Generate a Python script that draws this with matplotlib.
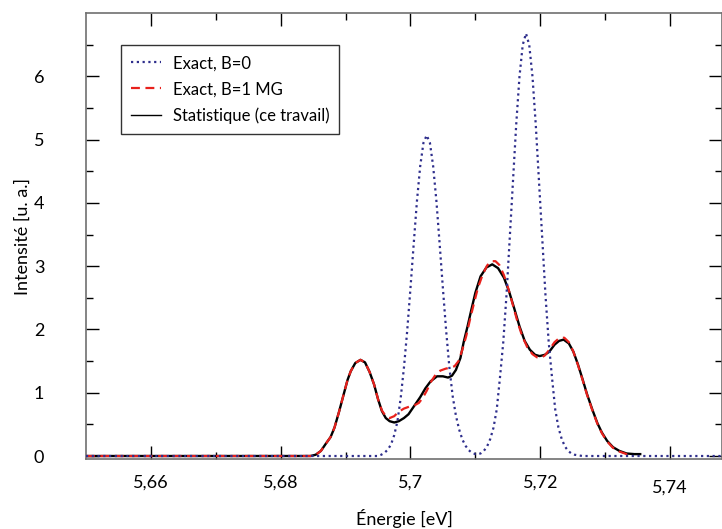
import matplotlib
matplotlib.use("Agg")
import matplotlib.pyplot as plt
import matplotlib.transforms as mtransforms
from matplotlib.lines import Line2D

plt.rcParams['font.family'] = ['Lato', 'DejaVu Sans']

# Exact, B=0 (two sharp lines)
b0_x = [5.6500, 5.6945,
        5.6950, 5.6955, 5.6960, 5.6965, 5.6970, 5.6975, 5.6980, 5.6985, 5.6990, 5.6995,
        5.7000, 5.7005, 5.7010, 5.7015, 5.7020, 5.7025, 5.7030, 5.7035, 5.7040, 5.7045,
        5.7050, 5.7055, 5.7060, 5.7065, 5.7070, 5.7075, 5.7080, 5.7085, 5.7090, 5.7095,
        5.7100,
        5.7103, 5.7108, 5.7113, 5.7118, 5.7123, 5.7128, 5.7133, 5.7138, 5.7143, 5.7148,
        5.7153, 5.7158, 5.7163, 5.7168, 5.7173, 5.7178, 5.7183, 5.7188, 5.7193, 5.7198,
        5.7203, 5.7208, 5.7213, 5.7218, 5.7223, 5.7228, 5.7233, 5.7238, 5.7243, 5.7248,
        5.7253, 5.7265, 5.7480]
b0_y = [0.00, 0.00,
        0.00, 0.02, 0.05, 0.10, 0.18, 0.33, 0.55, 0.92, 1.40, 1.98,
        2.65, 3.35, 4.03, 4.58, 4.95, 5.07, 4.95, 4.58, 4.03, 3.35,
        2.65, 1.98, 1.40, 0.95, 0.64, 0.42, 0.26, 0.16, 0.09, 0.05,
        0.03,
        0.03, 0.04, 0.08, 0.15, 0.27, 0.45, 0.74, 1.25, 1.80, 2.55,
        3.45, 4.35, 5.25, 6.00, 6.50, 6.68, 6.50, 6.00, 5.25, 4.35,
        3.45, 2.55, 1.80, 1.25, 0.74, 0.45, 0.27, 0.15, 0.08, 0.04,
        0.02, 0.00, 0.00]

# Exact, B=1 MG
b1_x = [5.6500, 5.6846, 5.6854, 5.6862, 5.6870, 5.6877, 5.6883, 5.6890, 5.6897, 5.6903,
        5.6908, 5.6915, 5.6923, 5.6930, 5.6937, 5.6944, 5.6950, 5.6956, 5.6962, 5.6968,
        5.6975, 5.6982, 5.6990, 5.6998, 5.7006, 5.7013, 5.7019, 5.7025, 5.7032, 5.7039,
        5.7046, 5.7054, 5.7062, 5.7068, 5.7074, 5.7080, 5.7086, 5.7092, 5.7098, 5.7104,
        5.7111, 5.7118, 5.7124, 5.7131, 5.7137, 5.7144, 5.7151, 5.7158, 5.7165, 5.7172,
        5.7180, 5.7188, 5.7195, 5.7201, 5.7207, 5.7214, 5.7222, 5.7230, 5.7237, 5.7244,
        5.7251, 5.7258, 5.7265, 5.7272, 5.7280, 5.7288, 5.7295, 5.7303, 5.7312, 5.7322,
        5.7333, 5.7342]
b1_y = [0.00, 0.00, 0.02, 0.08, 0.20, 0.30, 0.45, 0.70, 0.97, 1.20,
        1.34, 1.47, 1.52, 1.48, 1.33, 1.13, 0.90, 0.72, 0.63, 0.60,
        0.63, 0.70, 0.75, 0.78, 0.80, 0.84, 0.92, 1.03, 1.18, 1.29,
        1.35, 1.38, 1.40, 1.42, 1.50, 1.68, 1.90, 2.17, 2.42, 2.66,
        2.86, 3.01, 3.08, 3.08, 3.02, 2.86, 2.64, 2.38, 2.12, 1.90,
        1.72, 1.61, 1.56, 1.55, 1.59, 1.68, 1.80, 1.87, 1.87, 1.80,
        1.65, 1.44, 1.21, 0.97, 0.73, 0.51, 0.36, 0.23, 0.13, 0.07,
        0.03, 0.02]

# Statistique (ce travail)
st_x = [5.6500, 5.6846, 5.6854, 5.6862, 5.6870, 5.6877, 5.6883, 5.6890, 5.6897, 5.6903,
        5.6908, 5.6915, 5.6923, 5.6930, 5.6937, 5.6944, 5.6950, 5.6956, 5.6962, 5.6968,
        5.6975, 5.6982, 5.6990, 5.6997, 5.7005, 5.7015, 5.7023, 5.7031, 5.7041, 5.7050,
        5.7058, 5.7064, 5.7070, 5.7077, 5.7082, 5.7088, 5.7094, 5.7100, 5.7108, 5.7117,
        5.7126, 5.7135, 5.7144, 5.7152, 5.7160, 5.7168, 5.7176, 5.7184, 5.7192, 5.7199,
        5.7207, 5.7214, 5.7222, 5.7229, 5.7236, 5.7244, 5.7251, 5.7258, 5.7265, 5.7272,
        5.7280, 5.7288, 5.7295, 5.7303, 5.7312, 5.7322, 5.7333, 5.7345, 5.7354]
st_y = [0.00, 0.00, 0.02, 0.08, 0.20, 0.30, 0.45, 0.70, 0.97, 1.20,
        1.34, 1.47, 1.52, 1.48, 1.33, 1.13, 0.90, 0.71, 0.60, 0.55,
        0.53, 0.55, 0.60, 0.66, 0.78, 0.93, 1.07, 1.18, 1.26, 1.26,
        1.24, 1.27, 1.36, 1.55, 1.80, 2.05, 2.32, 2.58, 2.84, 2.98,
        3.03, 2.97, 2.82, 2.60, 2.33, 2.05, 1.82, 1.68, 1.60, 1.58,
        1.60, 1.65, 1.76, 1.82, 1.84, 1.78, 1.65, 1.45, 1.22, 0.98,
        0.74, 0.52, 0.37, 0.24, 0.14, 0.08, 0.04, 0.03, 0.03]

xticks = [5.66, 5.68, 5.70, 5.72, 5.74]
xticklabels = ["5,66", "5,68", "5,7", "5,72", ""]
yticks = [0, 1, 2, 3, 4, 5, 6]

fig = plt.figure(figsize=(7.22, 5.29), dpi=100)
ax = fig.add_axes([0.119, 0.132, 0.881, 0.843])

ax.plot(st_x, st_y, color="black", lw=1.7, zorder=2)
ax.plot(b1_x, b1_y, color="#e8211c", lw=1.6, ls=(0, (4, 2.5)), zorder=3)
ax.plot(b0_x, b0_y, color="#2e2e8c", lw=1.6, ls=(0, (1, 1.6)), zorder=4)

ax.set_xlim(5.65, 5.748)
ax.set_ylim(-0.05, 7.0)
ax.set_xticks(xticks)
ax.set_xticklabels(xticklabels)
ax.set_xticks([5.67, 5.69, 5.71, 5.73], minor=True)
ax.set_yticks(yticks)
ax.set_yticks([0.5, 1.5, 2.5, 3.5, 4.5, 5.5, 6.5], minor=True)
ax.tick_params(which="both", direction="in", top=True, right=True, labelsize=13)
ax.tick_params(which="major", length=9.5, width=1)
ax.tick_params(which="minor", length=5, width=1)
ax.tick_params(axis="x", which="major", pad=11)
ax.tick_params(axis="y", which="major", pad=30)
for s in ax.spines.values():
    s.set_color("#707070")
    s.set_linewidth(1.2)

# the last x label sits lower in the original
ax.text(5.74, -0.045, "5,74", fontsize=13, ha="center", va="top",
        transform=mtransforms.blended_transform_factory(ax.transData, ax.transAxes))

ax.set_xlabel("Énergie [eV]", fontsize=13, va="center")
ax.xaxis.set_label_coords(0.5, -0.134)
ax.set_ylabel("Intensité [u. a.]", fontsize=13, va="center")
ax.yaxis.set_label_coords(-0.1, 0.5)

handles = [Line2D([], [], color="#2e2e8c", lw=1.6, ls=(0, (1, 1.6))),
           Line2D([], [], color="#e8211c", lw=1.6, ls=(0, (4, 2.5))),
           Line2D([], [], color="black", lw=1.0)]
leg = ax.legend(handles, ["Exact, B=0", "Exact, B=1 MG", "Statistique (ce travail)"],
                loc="upper left", bbox_to_anchor=(0.055, 0.928), borderaxespad=0,
                fontsize=12, frameon=True, fancybox=False, edgecolor="black",
                handlelength=1.8, handletextpad=0.7, labelspacing=0.6, borderpad=0.6)
leg.get_frame().set_linewidth(1.0)

fig.savefig("out.png", dpi=100)
